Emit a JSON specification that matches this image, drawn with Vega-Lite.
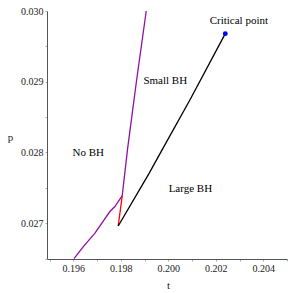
{
  "$schema": "https://vega.github.io/schema/vega-lite/v6.json",
  "width": 240,
  "height": 248,
  "autosize": {"type": "none"},
  "padding": {"left": 47, "top": 11, "right": 6, "bottom": 34},
  "background": "white",
  "config": {
    "view": {"stroke": null},
    "font": "Liberation Serif",
    "axis": {"grid": false, "domainColor": "#555555", "domainWidth": 1, "tickColor": "#aaaaaa", "tickSize": 2, "labelFont": "Liberation Serif", "labelFontSize": 10, "labelColor": "#222222", "titleFont": "Liberation Serif", "titleFontSize": 11, "titleFontWeight": "normal", "titleColor": "#222222"}
  },
  "datasets": {
    "lines": [
      {"series": "purple", "order": 1, "t": 0.19603, "p": 0.0265},
      {"series": "purple", "order": 2, "t": 0.19642, "p": 0.02667},
      {"series": "purple", "order": 3, "t": 0.19691, "p": 0.02686},
      {"series": "purple", "order": 4, "t": 0.19754, "p": 0.027165},
      {"series": "purple", "order": 5, "t": 0.19775, "p": 0.027235},
      {"series": "purple", "order": 6, "t": 0.19806, "p": 0.02739},
      {"series": "purple", "order": 7, "t": 0.19828, "p": 0.02804},
      {"series": "purple", "order": 8, "t": 0.19866, "p": 0.02901},
      {"series": "purple", "order": 9, "t": 0.19907, "p": 0.03},
      {"series": "red", "order": 1, "t": 0.19789, "p": 0.02696},
      {"series": "red", "order": 2, "t": 0.19806, "p": 0.02739},
      {"series": "black", "order": 1, "t": 0.19789, "p": 0.02696},
      {"series": "black", "order": 2, "t": 0.199197, "p": 0.027709},
      {"series": "black", "order": 3, "t": 0.199744, "p": 0.02804},
      {"series": "black", "order": 4, "t": 0.20092, "p": 0.028749},
      {"series": "black", "order": 5, "t": 0.2024, "p": 0.02968}
    ],
    "critical": [
      {"t": 0.2024, "p": 0.02968}
    ],
    "labels": [
      {"t": 0.20297, "p": 0.02986, "text": "Critical point"},
      {"t": 0.19987, "p": 0.02901, "text": "Small BH"},
      {"t": 0.19663, "p": 0.02799, "text": "No BH"},
      {"t": 0.20093, "p": 0.027487, "text": "Large BH"}
    ]
  },
  "encoding": {
    "x": {"field": "t", "type": "quantitative", "scale": {"domain": [0.19489, 0.205], "nice": false, "zero": false},
      "axis": {"title": "t", "values": [0.195, 0.196, 0.197, 0.198, 0.199, 0.2, 0.201, 0.202, 0.203, 0.204, 0.205],
        "labelExpr": "round(datum.value*1000) % 2 == 0 && datum.value < 0.2049 ? format(datum.value, '.3f') : ''",
        "labelPadding": 2, "titleAngle": 0, "titleX": 121, "titleY": 26, "titleBaseline": "middle", "titleAlign": "center"}},
    "y": {"field": "p", "type": "quantitative", "scale": {"domain": [0.026494, 0.03], "nice": false, "zero": false},
      "axis": {"title": "p", "values": [0.0265, 0.027, 0.0275, 0.028, 0.0285, 0.029, 0.0295, 0.03],
        "labelExpr": "round(datum.value*2000) % 2 == 0 ? format(datum.value, '.3f') : ''",
        "labelPadding": 2, "titleAngle": 0, "titleX": -37, "titleY": 126, "titleBaseline": "middle", "titleAlign": "center"}}
  },
  "layer": [
    {
      "data": {"name": "lines"},
      "mark": {"type": "line", "strokeWidth": 1.3},
      "encoding": {
        "order": {"field": "order", "type": "quantitative"},
        "detail": {"field": "series"},
        "color": {"field": "series", "type": "nominal", "scale": {"domain": ["purple", "red", "black"], "range": ["#9010A0", "#FF0000", "#000000"]}, "legend": null}
      }
    },
    {
      "data": {"name": "critical"},
      "mark": {"type": "point", "filled": true, "size": 24, "color": "#0000FF", "opacity": 1}
    },
    {
      "data": {"name": "labels"},
      "mark": {"type": "text", "font": "Liberation Serif", "fontSize": 11, "color": "#000000", "align": "center", "baseline": "middle"},
      "encoding": {"text": {"field": "text"}}
    }
  ]
}
